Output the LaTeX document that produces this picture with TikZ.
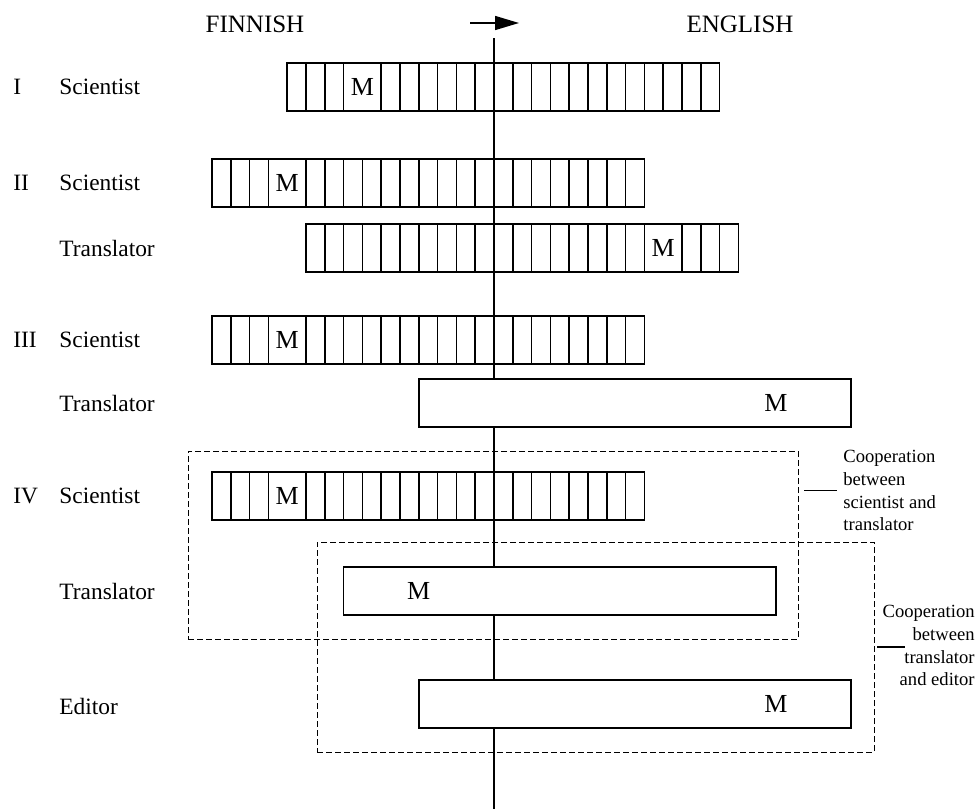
\documentclass[tikz,border=0pt]{standalone}
\usepackage{fontspec}
\setmainfont{Liberation Serif}
\usepackage{tikz}
\usetikzlibrary{calc,arrows.meta}

\newcommand{\cw}{18.8}% one cell
\newcommand{\ax}{494}% language border

\tikzset{
	strip/.style={draw, fill=white, line width=.75pt, inner sep=0pt, outer sep=0pt,
		minimum width=23*\cw*.5pt, minimum height=24pt, anchor=west},
	cell/.style={line width=.75pt},
	role/.style={anchor=west, inner sep=0pt, font=\fontsize{11.7}{14}\selectfont},
	lang/.style={inner sep=0pt, font=\fontsize{12.5}{15}\selectfont},
	mletter/.style={inner sep=0pt, font=\fontsize{13}{15}\selectfont},
	coop/.style={draw, dash pattern=on 3pt off 1.5pt, line width=.5pt, inner sep=0pt, outer sep=0pt},
	note/.style={inner sep=0pt, font=\fontsize{9.3}{11.35}\selectfont},
	leader/.style={line width=.6pt},
}

% strip of cells, the double cell holds M
\newcommand{\cellstrip}[4]{%
	\node[strip] (#1) at (\ax-#3*\cw,#2) {};
	\foreach \k in {1,...,22}{%
		\ifnum\k=#4\relax\else
			\draw[cell] ($(#1.north west)+(\k*\cw,0)$) -- ($(#1.south west)+(\k*\cw,0)$);
		\fi}
	\node[mletter] (#1m) at ($(#1.west)+(#4*\cw,0)$) {M};
}
% strip without cells
\newcommand{\plainstrip}[4]{%
	\node[strip] (#1) at (\ax-#3*\cw,#2) {};
	\node[mletter] (#1m) at ($(#1.west)+(#4*\cw,0)$) {M};
}

\begin{document}
\begin{tikzpicture}[x=.5pt, y=-.5pt]
		\useasboundingbox (0,0) rectangle (978,809);
		% languages
		\node[lang] (fin) at (255,24) {FINNISH};
		\node[lang] (eng) at (740,24) {ENGLISH};
		\coordinate (arrfrom) at (470,23);
		\coordinate (arrto) at (519,23);
		\draw[line width=.75pt, -{Triangle[length=12pt,width=7pt]}] (arrfrom) -- (arrto);
		% border line
		\coordinate (axtop) at (\ax,38);
		\coordinate (axbot) at (\ax,809);
		\draw[line width=.75pt] (axtop) -- (axbot);
		% cooperation frames
		\node[coop, minimum width=305pt, minimum height=94pt] (coopA) at (493,545) {};
		\node[coop, minimum width=278.5pt, minimum height=105pt] (coopB) at (595.5,647) {};
		% row labels
		\node[role] (numI) at (13,87) {I};
		\node[role] (numII) at (13,183) {II};
		\node[role] (numIII) at (13,340) {III};
		\node[role] (numIV) at (13,496) {IV};
		\node[role] (labI) at (59,87) {Scientist};
		\node[role] (labIIa) at (59,183) {Scientist};
		\node[role] (labIIb) at (59,248) {Translator};
		\node[role] (labIIIa) at (59,340) {Scientist};
		\node[role] (labIIIb) at (59,403) {Translator};
		\node[role] (labIVa) at (59,496) {Scientist};
		\node[role] (labIVb) at (59,591) {Translator};
		\node[role] (labIVc) at (59,706) {Editor};
		% strips
		\cellstrip{sciI}{87}{11}{4}
		\cellstrip{sciII}{183}{15}{4}
		\cellstrip{traII}{248}{10}{19}
		\cellstrip{sciIII}{340}{15}{4}
		\plainstrip{traIII}{403}{4}{19}
		\cellstrip{sciIV}{496}{15}{4}
		\plainstrip{traIV}{591}{8}{4}
		\plainstrip{edIV}{704}{4}{19}
		% notes
		\node[note, align=left, anchor=north west] (noteA) at (843,450) {Cooperation\\between\\scientist and\\translator};
		\node[note, align=right, anchor=north east] (noteB) at (975,605) {Cooperation\\between\\translator\\and editor};
		\draw[leader] ([xshift=3pt]coopA.east |- noteA.west) -- ++(33,0);
		\draw[leader] ([xshift=1.5pt]coopB.east) -- ++(28,0);
	\end{tikzpicture}
\end{document}
